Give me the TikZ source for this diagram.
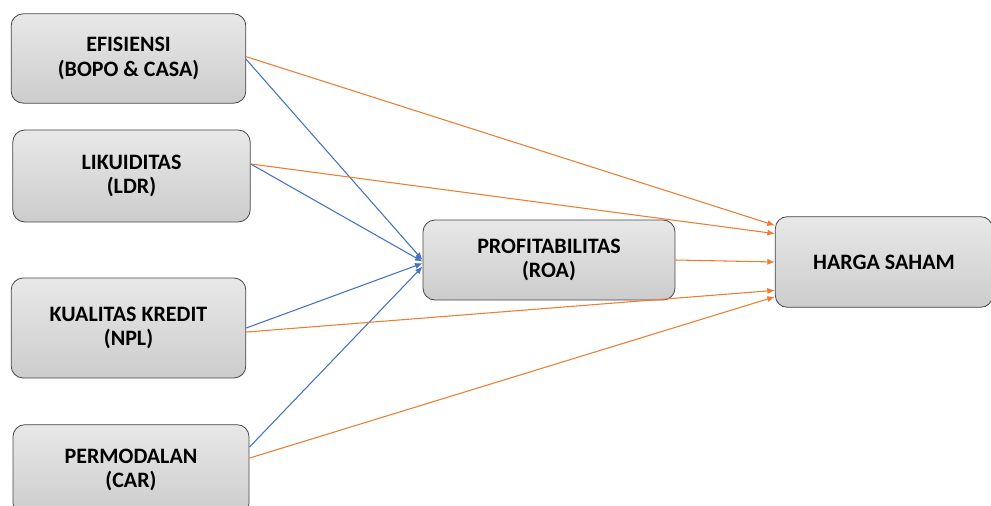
\documentclass[tikz,border=0pt]{standalone}
\usepackage{fontspec}
\setmainfont{Carlito}
\usepackage{tikz}
\usetikzlibrary{positioning, shapes.geometric}
\usetikzlibrary{calc}
\usetikzlibrary{arrows.meta}

\definecolor{oarrow}{HTML}{ED7D31}
\definecolor{barrow}{HTML}{4472C4}

\begin{document}
\begin{tikzpicture}[x=0.75pt, y=-0.75pt,
        box/.style={rectangle, rounded corners=9pt, draw=gray!55!black, line width=0.6pt,
                    top color=gray!18, bottom color=gray!40, text centered,
                    font=\fontsize{16.5}{18.5}\selectfont\bfseries, align=center},
        oline/.style={oarrow, line width=0.8pt, -{Latex[length=2mm, width=1.6mm]}},
        bline/.style={barrow, line width=0.8pt, -{Latex[length=2mm, width=1.6mm]}}]

        \useasboundingbox (0,0) rectangle (991,506);

        % Nodes
        \node (E) [box, minimum width=176pt, minimum height=67pt] at (128.5,58.5) {EFISIENSI\\(BOPO \& CASA)};
        \node (L) [box, minimum width=178pt, minimum height=69pt] at (131.5,176) {LIKUIDITAS\\(LDR)};
        \node (K) [box, minimum width=176pt, minimum height=75pt] at (128.5,328) {KUALITAS KREDIT\\(NPL)};
        \node (M) [box, minimum width=177pt, minimum height=68pt] at (131,470) {PERMODALAN\\(CAR)};
        \node (P) [box, minimum width=189pt, minimum height=60pt] at (549,260) {PROFITABILITAS\\(ROA)};
        \node (H) [box, minimum width=163pt, minimum height=68pt] at (884,262) {HARGA SAHAM};

        % Arrows
        \draw[bline] ($(E.north east)!0.51!(E.south east)$) -- ($(P.north west)!0.50!(P.south west)$);
        \draw[bline] ($(L.north east)!0.37!(L.south east)$) -- ($(P.north west)!0.52!(P.south west)$);
        \draw[bline] ($(K.north east)!0.50!(K.south east)$) -- ($(P.north west)!0.54!(P.south west)$);
        \draw[bline] ($(M.north east)!0.25!(M.south east)$) -- ($(P.north west)!0.58!(P.south west)$);

        \draw[oline] ($(E.north east)!0.48!(E.south east)$) -- ($(H.north west)!0.10!(H.south west)$);
        \draw[oline] ($(L.north east)!0.37!(L.south east)$) -- ($(H.north west)!0.19!(H.south west)$);
        \draw[oline] (P.east) -- (H.west);
        \draw[oline] ($(K.north east)!0.54!(K.south east)$) -- ($(H.north west)!0.81!(H.south west)$);
        \draw[oline] ($(M.north east)!0.37!(M.south east)$) -- ($(H.north west)!0.88!(H.south west)$);

\end{tikzpicture}
\end{document}
